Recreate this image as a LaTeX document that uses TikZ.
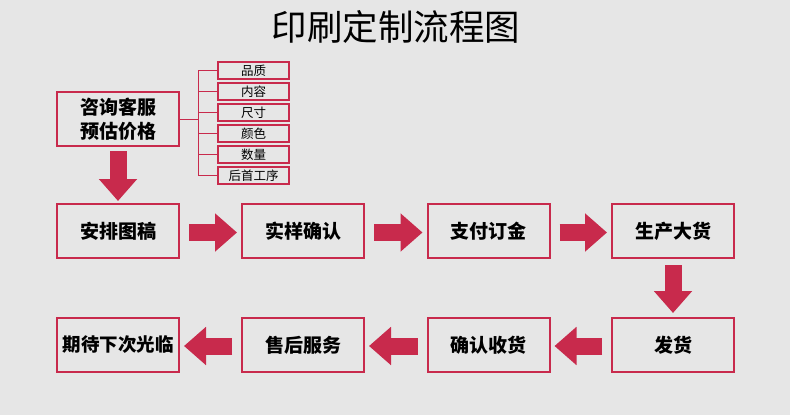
\documentclass[tikz,border=0pt]{standalone}
\usepackage{fontspec}
\setmainfont{Noto Sans CJK SC}
\newfontfamily\cjk{Noto Sans CJK SC}
\usetikzlibrary{arrows.meta,calc}
\definecolor{bg}{RGB}{230,230,230}
\definecolor{rd}{RGB}{200,42,76}
\tikzset{
  box/.style={draw=rd, line width=2pt, minimum width=122pt, minimum height=54pt, inner sep=0pt, font=\cjk\bfseries\fontsize{19}{24}\selectfont, align=center, text=black},
  tag/.style={draw=rd, line width=1.3pt, minimum width=71pt, minimum height=17pt, inner sep=0pt, font=\cjk\fontsize{12.5}{14}\selectfont, text=black},
  blockarrow/.style={draw=rd, line width=17pt, line cap=butt, -{Triangle[width=37pt,length=22pt]}},
  bracket/.style={draw=rd, line width=1pt}
}
\begin{document}
\begin{tikzpicture}[x=1pt,y=-1pt]
\fill[bg] (0,0) rectangle (790,415);
\useasboundingbox (0,0) rectangle (790,415);
\node[font=\cjk\fontsize{35.5}{40}\selectfont] (title) at (396,27) {印刷定制流程图};

\node[box] (consult) at (118,119) {咨询客服\\预估价格};
\foreach \i/\t in {0/品质,1/内容,2/尺寸,3/颜色,4/数量,5/后首工序}{
  \node[tag] (t\i) at (253.5,{70.5+21*\i}) {\t};
}
\coordinate (bk) at (198,119);
\draw[bracket] (consult.east) -- (bk);
\draw[bracket] (bk |- t0.west) -- (bk |- t5.west);
\foreach \i in {0,...,5}{ \draw[bracket] (bk |- t\i.west) -- (t\i.west); }

\node[box] (a1) at (118,231) {安排图稿};
\node[box] (a2) at (303,231) {实样确认};
\node[box] (a3) at (488.5,231) {支付订金};
\node[box] (a4) at (673,231) {生产大货};
\node[box] (b4) at (673,345) {发货};
\node[box] (b3) at (488.5,345) {确认收货};
\node[box] (b2) at (303,345) {售后服务};
\node[box,font=\cjk\bfseries\fontsize{18.5}{22}\selectfont] (b1) at (118,345) {期待下次光临};

\draw[blockarrow] ($(consult.south)+(0,4)$) -- ($(a1.north)+(0,-2)$);
\draw[blockarrow] ($(a1.east)+(9,1.5)$) -- ($(a2.west)+(-4,1.5)$);
\draw[blockarrow] ($(a2.east)+(9,1.5)$) -- ($(a3.west)+(-4,1.5)$);
\draw[blockarrow] ($(a3.east)+(9,1.5)$) -- ($(a4.west)+(-4,1.5)$);
\draw[blockarrow] ($(a4.south)+(0,6)$) -- ($(b4.north)+(0,-4)$);
\draw[blockarrow] ($(b4.west)+(-9,1)$) -- ($(b3.east)+(4,1)$);
\draw[blockarrow] ($(b3.west)+(-9,1)$) -- ($(b2.east)+(4,1)$);
\draw[blockarrow] ($(b2.west)+(-9,1)$) -- ($(b1.east)+(4,1)$);
\end{tikzpicture}
\end{document}
